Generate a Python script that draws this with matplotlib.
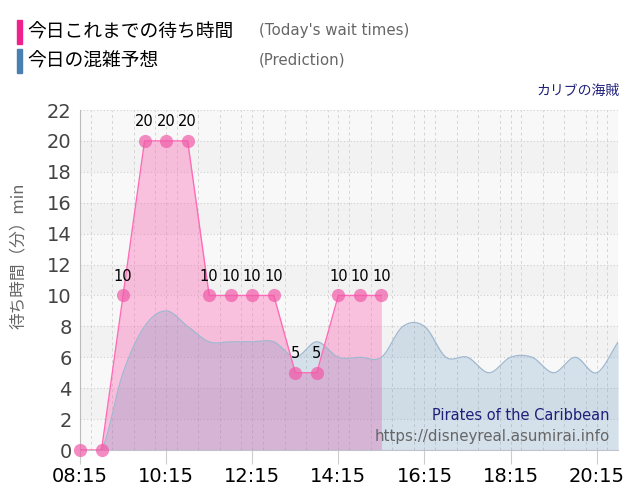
import numpy as np
import matplotlib
matplotlib.use("Agg")
import matplotlib.pyplot as plt
from matplotlib.patches import Rectangle
from matplotlib.ticker import MultipleLocator

# 実績（30分ごと）
wait_times = ["08:15", "08:45", "09:15", "09:45", "10:15", "10:45", "11:15", "11:45",
              "12:15", "12:45", "13:15", "13:45", "14:15", "14:45", "15:15"]
wait_values = [0, 0, 10, 20, 20, 20, 10, 10, 10, 10, 5, 5, 10, 10, 10]

# 予想（30分ごと）
pred_times = ["08:15", "08:45", "09:15", "09:45", "10:15", "10:45", "11:15", "11:45",
              "12:15", "12:45", "13:15", "13:45", "14:15", "14:45", "15:15", "15:45",
              "16:15", "16:45", "17:15", "17:45", "18:15", "18:45", "19:15", "19:45",
              "20:15", "20:45"]
pred_values = [0, 0, 5, 8, 9, 8, 7, 7, 7, 7, 6, 7, 6, 6, 6, 8,
               8, 6, 6, 5, 6, 6, 5, 6, 5, 7]

tick_labels = ["08:15", "10:15", "12:15", "14:15", "16:15", "18:15", "20:15"]

JP = ["Noto Sans CJK JP", "DejaVu Sans"]


def to_hours(t):
    h, m = t.split(":")
    return int(h) + int(m) / 60


def smooth(x, y, n=20):
    # Catmull-Rom 風の滑らかな曲線（点は必ず通る）
    x = np.asarray(x, float)
    y = np.asarray(y, float)
    m = np.gradient(y, x)
    xs, ys = [], []
    for i in range(len(x) - 1):
        h = x[i + 1] - x[i]
        t = np.linspace(0, 1, n, endpoint=False)
        h00 = 2 * t**3 - 3 * t**2 + 1
        h10 = t**3 - 2 * t**2 + t
        h01 = -2 * t**3 + 3 * t**2
        h11 = t**3 - t**2
        xs.append(x[i] + t * h)
        ys.append(h00 * y[i] + h10 * h * m[i] + h01 * y[i + 1] + h11 * h * m[i + 1])
    xs.append([x[-1]])
    ys.append([y[-1]])
    return np.concatenate(xs), np.concatenate(ys)


wx = [to_hours(t) for t in wait_times]
px = [to_hours(t) for t in pred_times]
sx, sy = smooth(px, pred_values)

fig = plt.figure(figsize=(6.4, 5), dpi=100)
ax = fig.add_axes([0.125, 0.1, 0.841, 0.68])

x0, x1 = to_hours("08:15"), to_hours("20:45")
ax.set_xlim(x0, x1)
ax.set_ylim(0, 22)

# 背景の縞
for k in range(11):
    ax.axhspan(2 * k, 2 * k + 2, color="#f2f2f2" if k % 2 == 1 else "#f8f8f8",
               zorder=0, lw=0)

ax.fill_between(wx, wait_values, color="#ff69b4", alpha=0.38, lw=0, zorder=2)
ax.fill_between(sx, sy, color="#4682b4", alpha=0.2, lw=0, zorder=3)
ax.plot(sx, sy, color="#9fb8d0", lw=0.9, zorder=4)
ax.plot(wx, wait_values, color="#ff6cb6", lw=1.0, zorder=5)
ax.plot(wx, wait_values, "o", ms=9.5, color="#f05aa8", alpha=0.7, mec="none",
        zorder=6, clip_on=False)

for x, v in zip(wx, wait_values):
    if v > 0:
        ax.text(x, v + 0.75, str(v), ha="center", va="bottom", fontsize=10.5,
                color="black", zorder=7)

# 軸・グリッド
ax.yaxis.set_major_locator(MultipleLocator(2))
ax.xaxis.set_minor_locator(MultipleLocator(0.5))
ax.set_xticks([x0 + 2 * i for i in range(len(tick_labels))])
ax.set_xticklabels(tick_labels)

ax.grid(axis="y", color="#cfcfcf", ls=(0, (1, 2)), lw=0.8, zorder=1)
ax.grid(axis="x", which="both", color="#d5d5d5", ls=(0, (3, 3)), lw=0.7, zorder=1)
ax.set_axisbelow(True)

ax.tick_params(axis="y", length=0, labelsize=14, labelcolor="#444444", pad=6)
ax.tick_params(axis="x", which="major", length=10, color="#cccccc", labelsize=14,
               labelcolor="black", pad=2)
ax.tick_params(axis="x", which="minor", length=0)

for s in ["top", "right"]:
    ax.spines[s].set_visible(False)
ax.spines["left"].set_color("#bbbbbb")
ax.spines["bottom"].set_color("#cccccc")

fig.text(18 / 640, 1 - 256 / 500, "待ち時間（分）min", rotation=90, ha="center",
         va="center", fontsize=12, color="#666666", family=JP)

# 凡例（上部）
fig.patches.append(Rectangle((17 / 640, 1 - 44 / 500), 5 / 640, 24 / 500,
                             transform=fig.transFigure, color="#f0208c"))
fig.patches.append(Rectangle((17 / 640, 1 - 73 / 500), 5 / 640, 24 / 500,
                             transform=fig.transFigure, color="#4a7fb2"))
fig.text(27 / 640, 1 - 32 / 500, "今日これまでの待ち時間", fontsize=13.5,
         va="center", family=JP, color="black")
fig.text(27 / 640, 1 - 61 / 500, "今日の混雑予想", fontsize=13.5,
         va="center", family=JP, color="black")
fig.text(259 / 640, 1 - 31 / 500, "(Today's wait times)", fontsize=10.8,
         va="center", color="#666666")
fig.text(259 / 640, 1 - 60 / 500, "(Prediction)", fontsize=10.8,
         va="center", color="#666666")
fig.text(620 / 640, 1 - 91 / 500, "カリブの海賊", fontsize=10, ha="right",
         va="center", family=JP, color="#1f1f7a")

fig.text(610 / 640, 1 - 415 / 500, "Pirates of the Caribbean", fontsize=10.5,
         ha="right", va="center", color="#1f1f7a")
fig.text(610 / 640, 1 - 436 / 500, "https://disneyreal.asumirai.info", fontsize=10.8,
         ha="right", va="center", color="#666666")

fig.savefig("out.png", dpi=100)
